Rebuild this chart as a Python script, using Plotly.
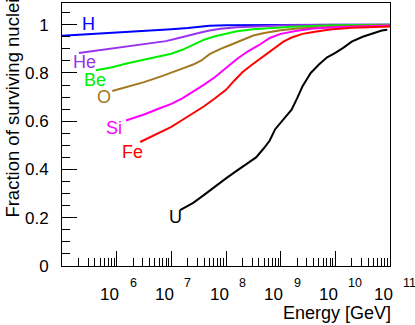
import plotly.graph_objects as go

# ---- data (log10 of energy in GeV, fraction surviving) ----
h_loge = [5.0, 5.4, 5.8, 6.2, 6.6, 7.0, 7.3, 7.5, 7.7, 8.0, 8.5, 9.0, 10.0, 11.0]
h_frac = [0.954, 0.959, 0.966, 0.971, 0.976, 0.981, 0.986, 0.991, 0.996, 0.998, 0.999, 1.0, 1.0, 1.0]

he_loge = [5.31, 5.6, 5.9, 6.2, 6.6, 6.9, 7.1, 7.3, 7.5, 7.7, 7.9, 8.2, 8.6, 9.0, 9.5, 10.0, 11.0]
he_frac = [0.883, 0.892, 0.899, 0.909, 0.923, 0.932, 0.943, 0.956, 0.966, 0.976, 0.983, 0.989, 0.994, 0.997, 0.999, 1.0, 1.0]

be_loge = [5.62, 5.9, 6.2, 6.5, 6.8, 7.0, 7.2, 7.4, 7.6, 7.8, 8.0, 8.2, 8.5, 8.8, 9.2, 9.6, 10.0, 11.0]
be_frac = [0.811, 0.823, 0.840, 0.855, 0.868, 0.880, 0.896, 0.918, 0.938, 0.952, 0.963, 0.973, 0.981, 0.987, 0.992, 0.995, 0.998, 1.0]

o_loge = [5.92, 6.2, 6.5, 6.8, 7.0, 7.2, 7.4, 7.55, 7.7, 7.9, 8.1, 8.3, 8.5, 8.7, 9.0, 9.3, 9.6, 10.0, 10.5, 11.0]
o_frac = [0.725, 0.742, 0.762, 0.785, 0.800, 0.818, 0.835, 0.852, 0.878, 0.900, 0.918, 0.937, 0.955, 0.966, 0.977, 0.984, 0.988, 0.992, 0.996, 0.998]

si_loge = [6.17, 6.5, 6.8, 7.0, 7.2, 7.4, 7.6, 7.8, 8.0, 8.2, 8.4, 8.6, 8.8, 9.0, 9.3, 9.6, 10.0, 10.5, 11.0]
si_frac = [0.603, 0.628, 0.655, 0.672, 0.695, 0.722, 0.752, 0.783, 0.822, 0.858, 0.890, 0.915, 0.945, 0.962, 0.975, 0.984, 0.990, 0.995, 0.997]

fe_loge = [6.43, 6.7, 7.0, 7.2, 7.4, 7.6, 7.8, 8.0, 8.15, 8.3, 8.45, 8.6, 8.75, 8.9, 9.05, 9.2, 9.4, 9.6, 9.9, 10.3, 10.7, 11.0]
fe_frac = [0.514, 0.545, 0.577, 0.605, 0.634, 0.662, 0.695, 0.730, 0.768, 0.803, 0.830, 0.855, 0.880, 0.905, 0.930, 0.947, 0.962, 0.970, 0.980, 0.987, 0.991, 0.993]

u_loge = [7.16, 7.4, 7.6, 7.8, 8.0, 8.2, 8.4, 8.55, 8.7, 8.8, 8.9, 9.0, 9.1, 9.2, 9.3, 9.4, 9.55,
          9.7, 9.85, 10.0, 10.15, 10.3, 10.5, 10.7, 10.85, 10.95]
u_frac = [0.232, 0.262, 0.295, 0.330, 0.363, 0.395, 0.425, 0.450, 0.490, 0.520, 0.567, 0.595, 0.618,
          0.648, 0.695, 0.745, 0.800, 0.835, 0.865, 0.883, 0.905, 0.930, 0.950, 0.966, 0.976, 0.979]

x_tick_exp = [6, 7, 8, 9, 10, 11]
y_tick_vals = [0, 0.2, 0.4, 0.6, 0.8, 1.0]
y_tick_text = ["0", "0.2", "0.4", "0.6", "0.8", "1"]

FONT = "Liberation Sans, Arial, Helvetica, sans-serif"

# name, x, y, color, label pos (log10 E, fraction)
curves = [
    ("H", h_loge, h_frac, "#0000ff", (5.48, 1.005)),
    ("He", he_loge, he_frac, "#9933ee", (5.42, 0.846)),
    ("Be", be_loge, be_frac, "#00ee00", (5.61, 0.769)),
    ("O", o_loge, o_frac, "#a07820", (5.77, 0.700)),
    ("Si", si_loge, si_frac, "#ff00ff", (5.96, 0.573)),
    ("Fe", fe_loge, fe_frac, "#ff0000", (6.29, 0.471)),
    ("U", u_loge, u_frac, "#000000", (7.07, 0.204)),
]

fig = go.Figure()
annotations = []
for name, lx, fy, col, pos in curves:
    fig.add_trace(go.Scatter(x=[10 ** v for v in lx], y=fy, mode="lines",
                             line=dict(color=col, width=2), name=name, showlegend=False))
    annotations.append(dict(x=pos[0], y=pos[1], xref="x", yref="y", text=name, showarrow=False,
                            font=dict(family=FONT, size=18, color=col),
                            xanchor="center", yanchor="middle"))

# ROOT-style x tick labels: "10" with a raised exponent set off to the right
for e in x_tick_exp:
    annotations.append(dict(x=e, y=-0.1065, xref="x", yref="paper", text="10", xshift=-7,
                            showarrow=False, xanchor="center", yanchor="middle",
                            font=dict(family=FONT, size=17, color="black")))
    annotations.append(dict(x=e, y=-0.063, xref="x", yref="paper", text=str(e), xshift=11,
                            showarrow=False, xanchor="left", yanchor="middle",
                            font=dict(family=FONT, size=12.5, color="black")))

# axis titles (ROOT style: right/top aligned)
annotations.append(dict(x=1.009, y=-0.179, xref="paper", yref="paper", text="Energy [GeV]",
                        showarrow=False, xanchor="right", yanchor="middle",
                        font=dict(family=FONT, size=18, color="black")))
annotations.append(dict(x=-0.152, y=0.175, xref="paper", yref="paper",
                        text="Fraction of surviving nuclei", textangle=-90,
                        showarrow=False, xanchor="center", yanchor="bottom",
                        font=dict(family=FONT, size=18.5, color="black")))

minor_x = [k * 10 ** e for e in range(5, 11) for k in range(2, 10)]

fig.update_layout(
    width=415, height=325,
    margin=dict(l=62, r=25, t=3, b=59),
    paper_bgcolor="white", plot_bgcolor="white",
    font=dict(family=FONT, size=17, color="black"),
    annotations=annotations,
    xaxis=dict(type="log", range=[5, 11],
               tickvals=[10 ** e for e in x_tick_exp], showticklabels=False,
               ticks="inside", ticklen=15, tickwidth=1, tickcolor="black",
               minor=dict(tickvals=minor_x, ticks="inside", ticklen=8, tickcolor="black", showgrid=False),
               showline=True, linecolor="black", linewidth=1, mirror=True,
               showgrid=False, zeroline=False),
    yaxis=dict(range=[0, 1.09], tickvals=y_tick_vals, ticktext=y_tick_text,
               ticks="inside", ticklen=15, tickwidth=1, tickcolor="black",
               minor=dict(dtick=0.05, ticks="inside", ticklen=8, tickcolor="black", showgrid=False),
               showline=True, linecolor="black", linewidth=1, mirror=True,
               showgrid=False, zeroline=False, ticklabelstandoff=9),
)

fig.write_html("out.html", config={"displayModeBar": False},
               post_script="document.body.style.margin='0';")
